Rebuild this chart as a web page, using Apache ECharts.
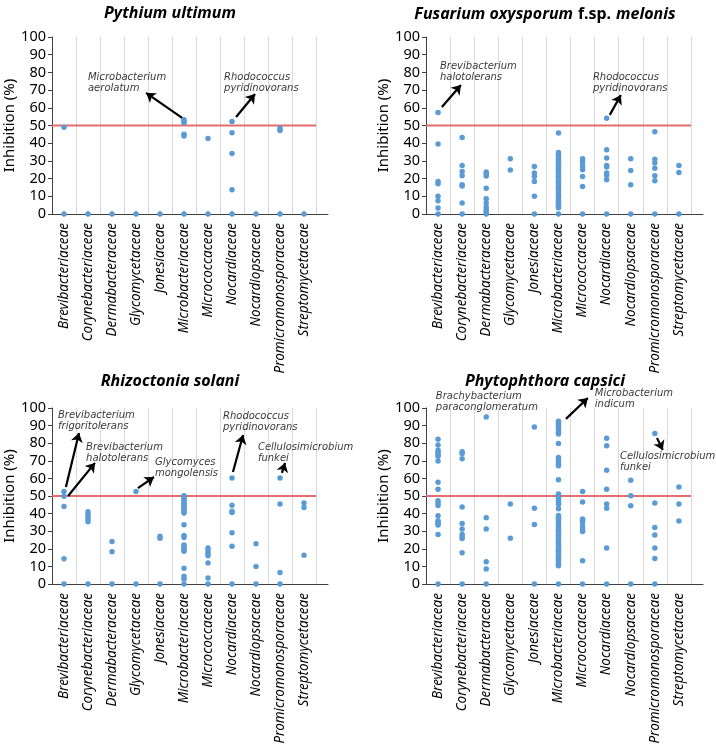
<!DOCTYPE html>
<html>
<head>
<meta charset="utf-8">
<script src="https://cdn.jsdelivr.net/npm/echarts@6/dist/echarts.min.js"></script>
<style>html,body{margin:0;padding:0;background:#fff}#c{width:716px;height:751px}</style>
</head>
<body>
<div id="c"></div>
<script>
// ---- categories ----
const families = ['Brevibacteriaceae','Corynebacteriaceae','Dermabacteraceae','Glycomycetaceae','Jonesiaceae','Microbacteriaceae','Micrococcaceae','Nocardiaceae','Nocardiopsaceae','Promicromonosporaceae','Streptomycetaceae'];
const yTicks = [0,10,20,30,40,50,60,70,80,90,100];
const threshold = 50;

// ---- values (inhibition %) per family, one array per panel ----
const pythium = [
  [49, 0], [0], [0], [0], [0],
  [53.2, 52.4, 51.5, 45.1, 44.0, 0],
  [42.7, 0],
  [52.3, 45.9, 34.2, 13.7, 0],
  [0],
  [48.5, 47.2, 0],
  [0]
];
const fusarium = [
  [57.3, 39.5, 18.4, 17.1, 10, 7.5, 3.4, 0],
  [43.2, 27.4, 24, 21.6, 16.5, 15.8, 6.2, 0],
  [23.7, 22.7, 21.4, 14.5, 8.6, 6.2, 3.9, 2.4, 1.1, 0],
  [31.2, 24.8],
  [26.9, 23.1, 21.2, 18.4, 10, 0],
  [45.7, 34.8, 33.5, 32.9, 31.2, 30.4, 29.1, 28.3, 27.6, 26.2, 25.4, 24.7, 23.3, 22.6, 21.4, 20.8, 19.5, 18.2, 17.6, 16.4, 15.1, 14.3, 13.2, 11.5, 10.4, 9.6, 8.2, 7.1, 6.3, 5.2, 4.4, 3.6, 0],
  [31.2, 30.1, 28.8, 26.9, 25, 21.2, 15.6, 0],
  [54.1, 36.3, 31.6, 27.4, 26.5, 23.1, 21.8, 19.4, 0],
  [31.2, 24.6, 16.5, 0],
  [46.4, 31, 28.8, 25.8, 21.6, 18.8, 0],
  [27.4, 23.5, 0]
];
const rhizoctonia = [
  [52.5, 49.8, 44, 14.3, 0],
  [41.1, 39.6, 38.1, 36.6, 35.3, 0],
  [24.2, 18.3, 0],
  [52.5, 0],
  [27.2, 26, 0],
  [50.1, 49.2, 48.3, 47.2, 46.1, 45.2, 44.3, 43.1, 42.2, 41.2, 40.4, 33.6, 27.6, 26.4, 22.1, 21.2, 20.3, 19.4, 18.6, 8.9, 4.4, 2.9, 0],
  [20.4, 18.9, 17.5, 16, 11.9, 3.4, 0],
  [60.2, 44.7, 41.3, 40.6, 29.1, 21.5, 0],
  [22.8, 10, 0],
  [60.2, 45.5, 6.6, 0],
  [46, 43.4, 16.4]
];
const phytophthora = [
  [82.3, 79, 76, 74.6, 73.6, 72.6, 69.9, 57.8, 53.8, 47.3, 46, 44.6, 38.8, 36, 35.2, 34.4, 33.5, 28.1, 0],
  [75.1, 74.2, 71.1, 43.8, 34.4, 31.3, 28.3, 26.8, 25.9, 17.7, 0],
  [94.9, 37.7, 31.3, 12.6, 8.5, 0],
  [45.5, 26],
  [89.2, 43, 33.8, 0],
  [92.5, 91.3, 90.2, 88.9, 87.6, 86.1, 85.2, 79.8, 71.9, 70.6, 69.4, 68.1, 67.2, 59.3, 51.2, 50.4, 49.6, 48.8, 47.5, 46.3, 45.1, 42.7, 38.9, 37.8, 36.9, 36.1, 34.8, 33.6, 32.4, 31.2, 30.5, 29.3, 28.1, 27.4, 26.2, 25.1, 24.3, 23.2, 22.4, 21.3, 20.1, 19.2, 18.4, 17.3, 16.1, 15.2, 14.1, 13.3, 12.1, 11.2, 10.4, 0],
  [52.5, 46.6, 37, 36.2, 34.9, 32.6, 30.8, 29.8, 13.2, 0],
  [82.8, 78.5, 64.7, 53.8, 45.5, 43, 20.4, 0],
  [58.9, 50.2, 44.5, 0],
  [85.5, 46, 32.1, 27.9, 20.4, 14.5, 0],
  [55.1, 45.5, 35.8]
];

// ---- annotations: [x, y, text] in axis units; arrows [[x1,y1],[x2,y2]] ----
const pythiumNotes = [[1.5, 80.3, 'Microbacterium\naerolatum'], [7.17, 80.3, 'Rhodococcus\npyridinovorans']];
const pythiumArrows = [[[5.42, 54.3], [3.92, 68.4]], [[7.67, 54.8], [8.46, 67.8]]];
const fusariumNotes = [[0.58, 86.3, 'Brevibacterium\nhalotolerans'], [6.93, 80.3, 'Rhodococcus\npyridinovorans']];
const fusariumArrows = [[[0.66, 60.5], [1.45, 72.9]], [[7.63, 56], [8.09, 67.2]]];
const rhizoctoniaNotes = [[0.25, 98.9, 'Brevibacterium\nfrigoritolerans'], [1.42, 80.7, 'Brevibacterium\nhalotolerans'], [4.29, 72.2, 'Glycomyces\nmongolensis'], [7.125, 98.3, 'Rhodococcus\npyridinovorans'], [8.58, 80.7, 'Cellulosimicrobium\nfunkei']];
const rhizoctoniaArrows = [[[0.58, 55.1], [1.125, 85.8]], [[0.67, 50], [1.79, 68.8]], [[3.58, 54.5], [4.25, 60.8]], [[7.54, 63.6], [7.96, 84.7]], [[9.58, 63.1], [9.71, 68.8]]];
const phytophthoraNotes = [[0.41, 109.7, 'Brachybacterium\nparaconglomeratum'], [7.01, 111.4, 'Microbacterium\nindicum'], [8.05, 75.6, 'Cellulosimicrobium\nfunkei']];
const phytophthoraArrows = [[[5.81, 93.8], [6.72, 105.7]], [[9.59, 83], [9.83, 76.1]]];

const panels = [
  {values: pythium, notes: pythiumNotes, arrows: pythiumArrows, grid: {left: 52, top: 37, width: 276, height: 177}},
  {values: fusarium, notes: fusariumNotes, arrows: fusariumArrows, grid: {left: 426, top: 37, width: 277, height: 177}},
  {values: rhizoctonia, notes: rhizoctoniaNotes, arrows: rhizoctoniaArrows, grid: {left: 52, top: 408, width: 276, height: 176}},
  {values: phytophthora, notes: phytophthoraNotes, arrows: phytophthoraArrows, grid: {left: 426, top: 408, width: 277, height: 176}}
];

const FONT = '"Noto Sans", sans-serif';
const catPos = families.map((f, i) => i + 0.5);

const grids = [], xAxes = [], yAxes = [], series = [];
panels.forEach((p, g) => {
  grids.push(Object.assign({containLabel: false}, p.grid));
  xAxes.push({
    type: 'value', gridIndex: g, min: 0, max: 11.5, interval: 1,
    axisLine: {show: true, onZero: false, lineStyle: {color: '#404040', width: 1}},
    axisTick: {show: false},
    splitLine: {show: true, showMinLine: false, showMaxLine: false, lineStyle: {color: '#d9d9d9', width: 1}},
    axisLabel: {
      customValues: catPos, rotate: 90, margin: 9,
      formatter: v => families[Math.round(v - 0.5)] || '',
      fontFamily: FONT, fontStyle: 'italic', fontSize: 13.5, color: '#000'
    }
  });
  yAxes.push({
    type: 'value', gridIndex: g, min: 0, max: 100, interval: 10,
    name: 'Inhibition (%)', nameLocation: 'middle', nameGap: 33,
    nameTextStyle: {fontFamily: FONT, fontSize: 15, color: '#000'},
    axisLine: {show: true, lineStyle: {color: '#404040', width: 1}},
    axisTick: {show: true, length: 4, lineStyle: {color: '#404040'}},
    splitLine: {show: false},
    axisLabel: {fontFamily: FONT, fontSize: 14.5, color: '#000', margin: 6,
      customValues: yTicks}
  });
  const pts = [];
  p.values.forEach((arr, i) => arr.forEach(v => pts.push([catPos[i], v])));
  series.push({
    type: 'line', xAxisIndex: g, yAxisIndex: g, data: [[0, threshold], [11, threshold]],
    symbol: 'none', lineStyle: {color: '#e46c6c', width: 2}, silent: true, z: 2
  });
  series.push({
    type: 'scatter', xAxisIndex: g, yAxisIndex: g, data: pts,
    symbolSize: 5.5, itemStyle: {color: '#5b9bd5', opacity: 1}, z: 3
  });
  series.push({
    type: 'lines', coordinateSystem: 'cartesian2d', xAxisIndex: g, yAxisIndex: g,
    clip: false, z: 4,
    data: p.arrows.map(a => ({coords: a})),
    symbol: ['none', 'arrow'], symbolSize: 9,
    lineStyle: {color: '#000', width: 2.2, opacity: 1}
  });
  series.push({
    type: 'scatter', xAxisIndex: g, yAxisIndex: g, clip: false, z: 5,
    data: p.notes, symbolSize: 0.01, silent: true,
    label: {show: true, position: [0, 0], align: 'left', verticalAlign: 'top',
      formatter: d => d.value[2], fontFamily: '"DejaVu Sans", sans-serif', fontStyle: 'italic',
      fontSize: 10, lineHeight: 11, color: '#000'}
  });
});

const titleStyle = {fontFamily: FONT, fontStyle: 'italic', fontWeight: 'bold', fontSize: 16, color: '#000'};
const option = {
  animation: false,
  backgroundColor: '#fff',
  title: [
    {text: 'Pythium ultimum', left: 165, top: 0, textAlign: 'center', textStyle: titleStyle},
    {text: '{i|Fusarium oxysporum} {n|f.sp.} {i|melonis}', left: 540, top: 0, textAlign: 'center',
      textStyle: {rich: {i: titleStyle, n: Object.assign({}, titleStyle, {fontStyle: 'normal'})}}},
    {text: 'Rhizoctonia solani', left: 165, top: 368, textAlign: 'center', textStyle: titleStyle},
    {text: 'Phytophthora capsici', left: 540, top: 368, textAlign: 'center', textStyle: titleStyle}
  ],
  grid: grids, xAxis: xAxes, yAxis: yAxes, series: series
};
const chart = echarts.init(document.getElementById('c'), null, {renderer: 'canvas'});
chart.setOption(option);
</script>
</body>
</html>
